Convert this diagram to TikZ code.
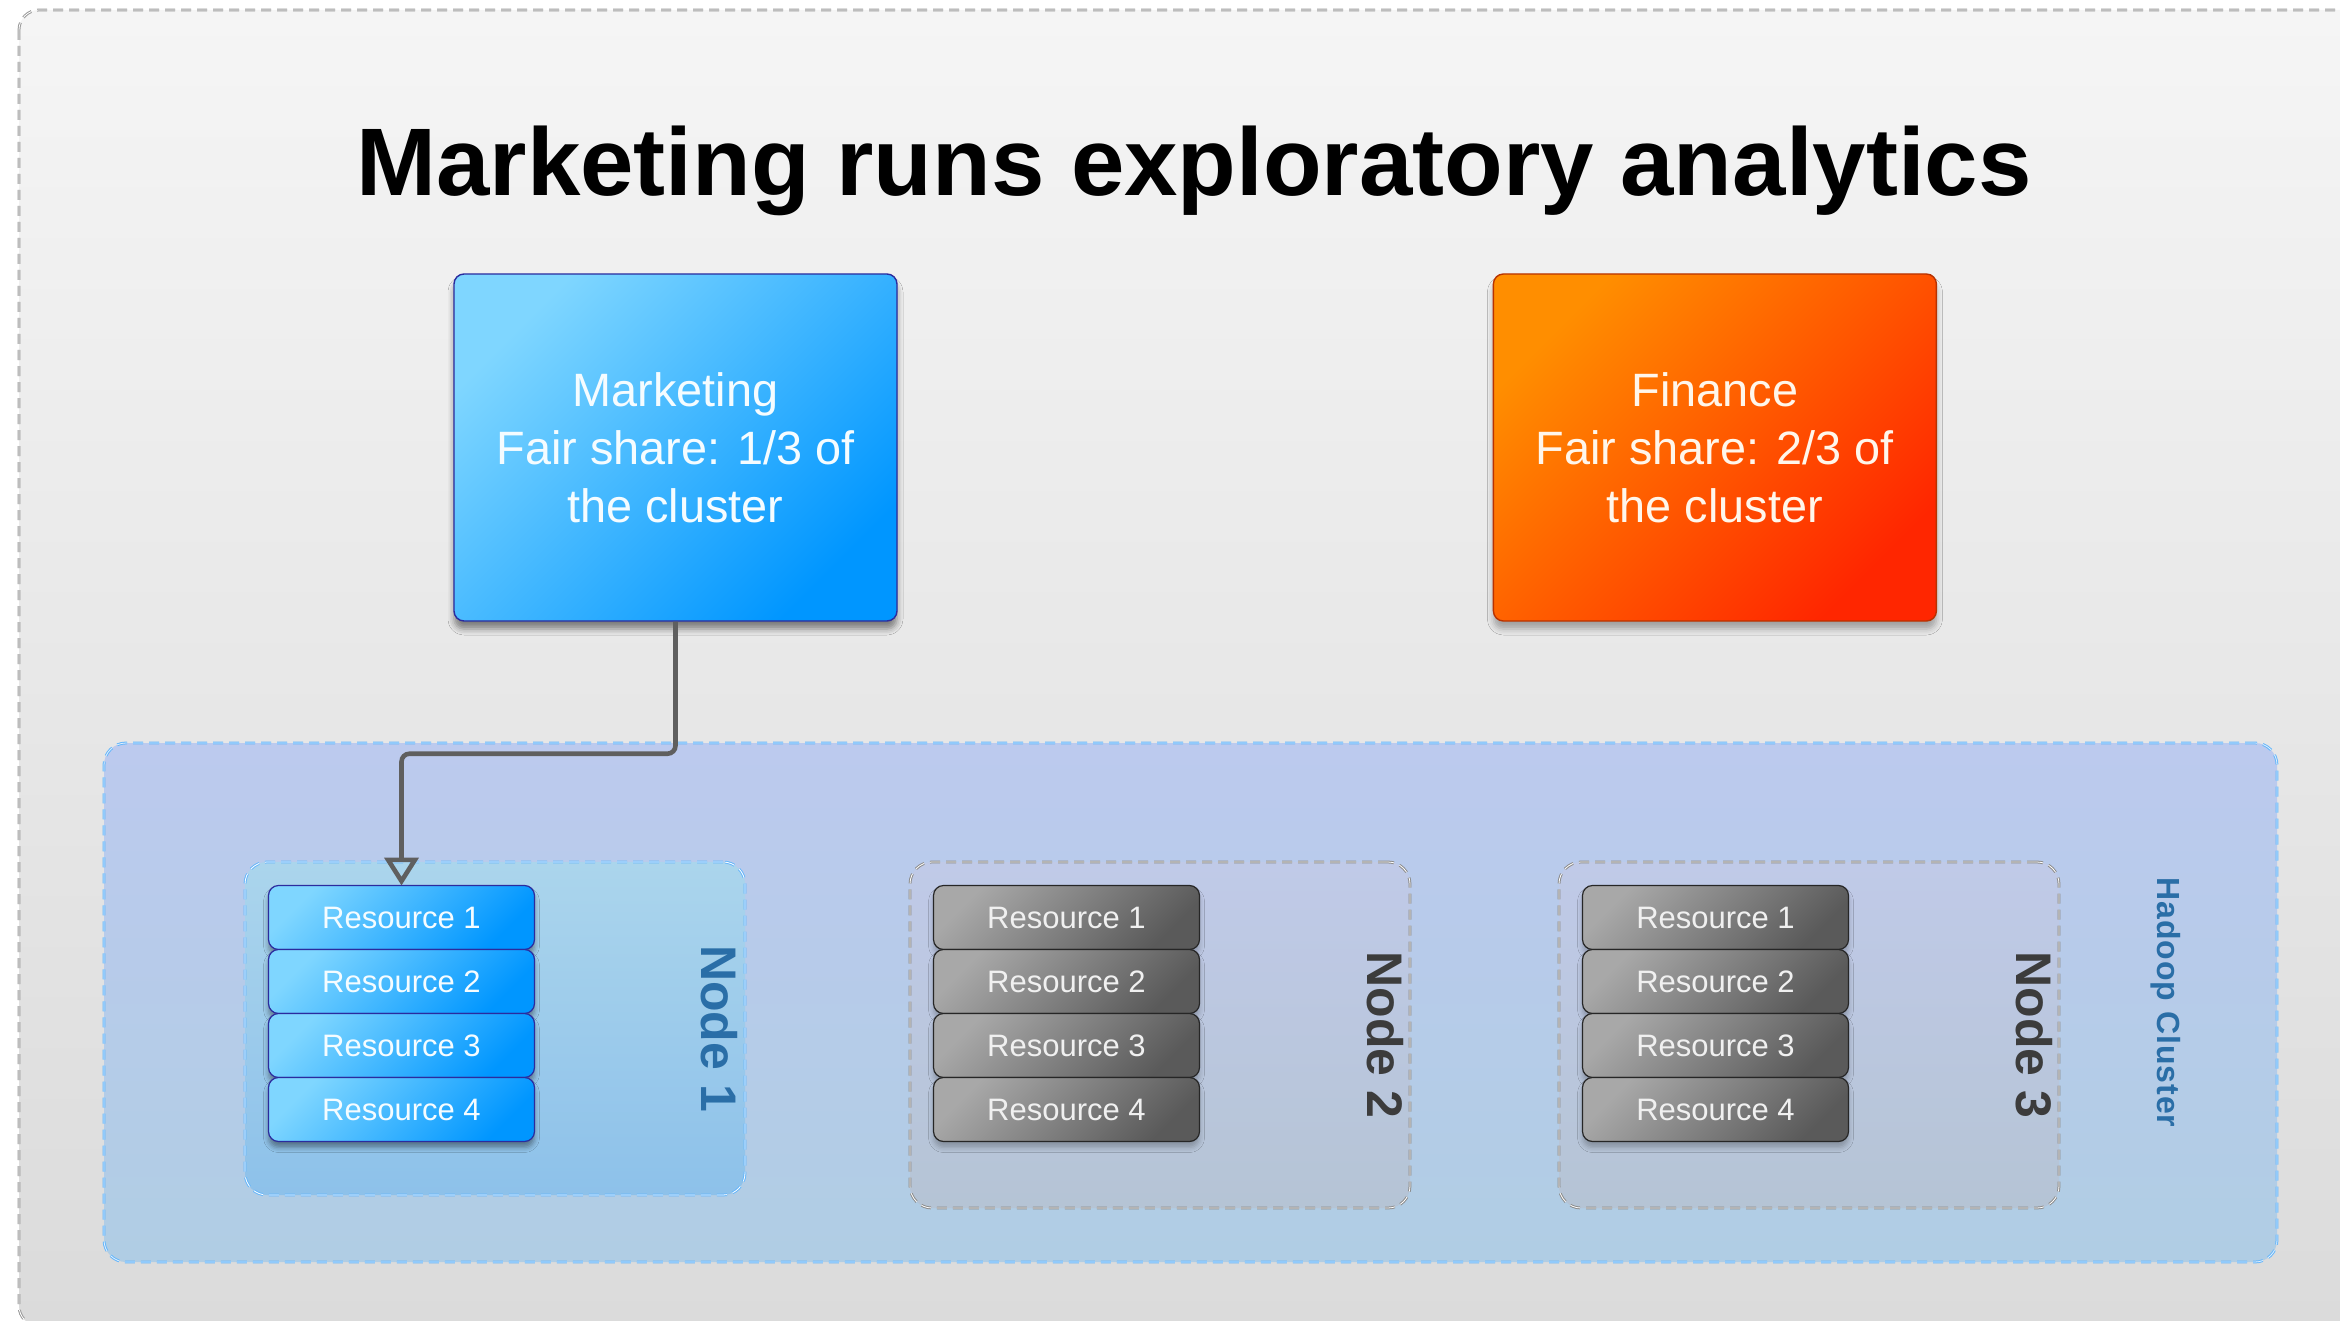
\documentclass[tikz,border=0pt]{standalone}
\usepackage{fontspec}
\setmainfont{Liberation Sans}
\usetikzlibrary{positioning, arrows.meta, shadows.blur}

\definecolor{mktlight}{HTML}{7FD6FF}
\definecolor{mktdark}{HTML}{0096FF}
\definecolor{mktline}{HTML}{2B2B9E}
\definecolor{finlight}{HTML}{FF8E00}
\definecolor{findark}{HTML}{FF2600}
\definecolor{finline}{HTML}{B83200}
\definecolor{greylight}{HTML}{A8A8A8}
\definecolor{greydark}{HTML}{5A5A5A}
\definecolor{frametop}{HTML}{F5F5F5}
\definecolor{framebot}{HTML}{DBDBDB}
\definecolor{clustertop}{HTML}{BCCAEE}
\definecolor{clusterbot}{HTML}{B0CDE4}
\definecolor{busytop}{HTML}{ABD5EC}
\definecolor{busybot}{HTML}{8DC1EA}
\definecolor{idletop}{HTML}{C0CAE8}
\definecolor{idlebot}{HTML}{B5C4D5}
\definecolor{dashblue}{HTML}{66B6FA}
\definecolor{labelblue}{HTML}{2A6EA7}
\definecolor{labelgrey}{HTML}{3C3C3C}
\definecolor{arrowgrey}{HTML}{5F5F5F}

\tikzstyle{frame} = [rounded corners=10pt, top color=frametop, bottom color=framebot,
    draw=black!40, line width=0.5pt, double=white, double distance=0.4pt,
    dash pattern=on 5pt off 3pt]
\tikzstyle{heading} = [font=\fontsize{48}{56}\selectfont\bfseries]
\tikzstyle{team} = [rectangle, rounded corners=5pt, line width=0.7pt,
    minimum width=221.5pt, minimum height=173.5pt, align=center,
    font=\fontsize{23.4}{29}\selectfont]
\tikzstyle{marketing} = [team, draw=mktline, top color=mktlight, bottom color=mktdark,
    shading angle=45, text=white!92!mktlight,
    blur shadow={shadow xshift=0pt, shadow yshift=-4pt, shadow blur radius=3pt, shadow opacity=45}]
\tikzstyle{finance} = [team, draw=finline, top color=finlight, bottom color=findark,
    shading angle=45, text=white!92!finlight,
    blur shadow={shadow xshift=0pt, shadow yshift=-4pt, shadow blur radius=3pt, shadow opacity=30}]
\tikzstyle{cluster} = [rectangle, rounded corners=11pt, minimum width=1086.5pt,
    minimum height=259.5pt, top color=clustertop, bottom color=clusterbot,
    draw=dashblue, line width=0.5pt, double=white!80!dashblue, double distance=0.4pt,
    dash pattern=on 5pt off 3pt]
\tikzstyle{clusterlabel} = [rotate=-90, text=labelblue,
    font=\fontsize{16}{18}\selectfont\bfseries\addfontfeature{LetterSpace=3}]
\tikzstyle{machine} = [rectangle, rounded corners=11pt, minimum width=250pt,
    line width=0.5pt, double=white, double distance=0.4pt, dash pattern=on 5pt off 3pt]
\tikzstyle{busynode} = [machine, top color=busytop, bottom color=busybot, draw=dashblue]
\tikzstyle{idlenode} = [machine, top color=idletop, bottom color=idlebot, draw=black!45]
\tikzstyle{nodelabel} = [rotate=-90, font=\fontsize{25}{28}\selectfont\bfseries]
\tikzstyle{resource} = [rectangle, rounded corners=5pt, line width=0.6pt, outer sep=0pt,
    minimum width=133pt, minimum height=32pt, font=\fontsize{15.5}{18}\selectfont]
\tikzstyle{busy} = [resource, draw=mktline, top color=mktlight, bottom color=mktdark,
    shading angle=45, text=white!92!mktlight,
    blur shadow={shadow xshift=0pt, shadow yshift=-3pt, shadow blur radius=2.5pt, shadow opacity=40}]
\tikzstyle{idle} = [resource, draw=black!85, top color=greylight, bottom color=greydark,
    shading angle=45, text=white!94!black,
    blur shadow={shadow xshift=0pt, shadow yshift=-3pt, shadow blur radius=2.5pt, shadow opacity=25}]
\tikzstyle{arrow} = [line width=2.3pt, draw=arrowgrey, rounded corners=4pt,
    -{Triangle[open, length=14pt, width=17pt]}]

\begin{document}
\begin{tikzpicture}[x=0.5pt, y=-0.5pt]
    \useasboundingbox (0,0) rectangle (2340,1321);
    \clip (0,0) rectangle (2340,1321);

    % Frame
    \draw [frame] (19,10) rectangle (2380,1326);

    % Title
    \node (title) [heading, anchor=base] at (1194,196) {Marketing runs exploratory analytics};

    % Teams
    \node (mkt) [marketing] at (675.5,447.5) {Marketing\\Fair share: 1/3 of\\the cluster};
    \node (fin) [finance, right=297.5pt of mkt] {Finance\\Fair share: 2/3 of\\the cluster};

    % Cluster
    \node (cluster) [cluster] at (1190.5,1002.5) {};
    \node (clusterlabel) [clusterlabel] at ([xshift=-56pt]cluster.east) {Hadoop Cluster};

    % Machines
    \node (node1) [busynode, minimum height=166.5pt] at (495,1028.5) {};
    \node (node2) [idlenode, minimum height=173pt] at (1160,1035) {};
    \node (node3) [idlenode, minimum height=173pt] at (1809,1035) {};
    \node (label1) [nodelabel, text=labelblue] at ([xshift=-13pt]node1.east) {Node 1};
    \node (label2) [nodelabel, text=labelgrey] at ([xshift=-12.5pt]node2.east) {Node 2};
    \node (label3) [nodelabel, text=labelgrey] at ([xshift=-12.5pt]node3.east) {Node 3};

    % Resources on node 1
    \node (r11) [busy, below right=12pt and 12pt of node1.north west] {Resource 1};
    \node (r12) [busy, below=0pt of r11] {Resource 2};
    \node (r13) [busy, below=0pt of r12] {Resource 3};
    \node (r14) [busy, below=0pt of r13] {Resource 4};

    % Resources on node 2
    \node (r21) [idle, below right=12pt and 12pt of node2.north west] {Resource 1};
    \node (r22) [idle, below=0pt of r21] {Resource 2};
    \node (r23) [idle, below=0pt of r22] {Resource 3};
    \node (r24) [idle, below=0pt of r23] {Resource 4};

    % Resources on node 3
    \node (r31) [idle, below right=12pt and 12pt of node3.north west] {Resource 1};
    \node (r32) [idle, below=0pt of r31] {Resource 2};
    \node (r33) [idle, below=0pt of r32] {Resource 3};
    \node (r34) [idle, below=0pt of r33] {Resource 4};

    % Arrow
    \draw [arrow] (mkt.south) -- ++(0,132) -| (r11.north);

\end{tikzpicture}
\end{document}
